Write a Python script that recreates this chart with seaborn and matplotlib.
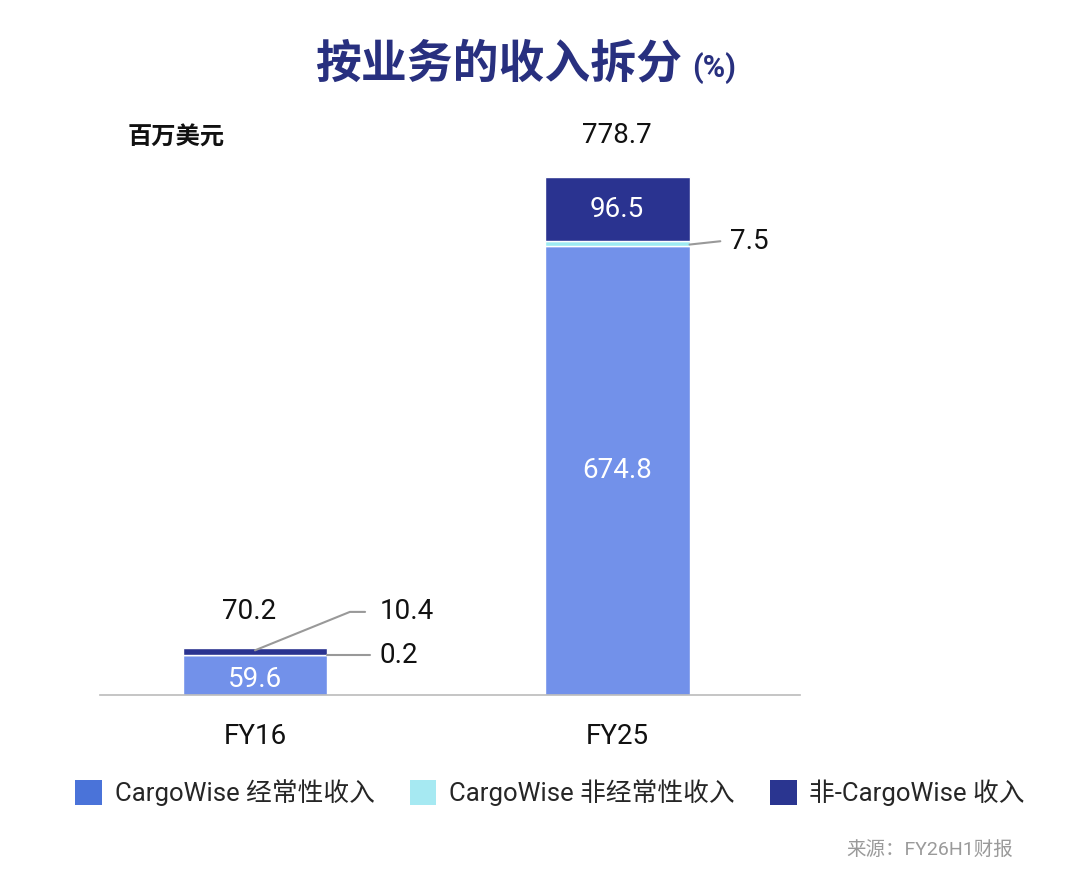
import numpy as np
import pandas as pd
import matplotlib
matplotlib.use("Agg")
import matplotlib.pyplot as plt
from matplotlib.patches import Patch
import seaborn as sns

# data (US$ million)
years = ["FY16", "FY25"]
recurring = [59.6, 674.8]
non_recurring = [0.2, 7.5]
non_cargowise = [10.4, 96.5]
totals = [70.2, 778.7]
series_names = ["CargoWise 经常性收入", "CargoWise 非经常性收入", "非-CargoWise 收入"]

bar_colors = ["#7291EA", "#9DEBF2", "#2A3390"]
legend_colors = ["#4A73D9", "#A6E9F2", "#2A3590"]

sns.set_theme(style="white")
plt.rcParams["font.family"] = ["Roboto", "Noto Sans CJK SC", "DejaVu Sans"]

df = pd.DataFrame({"year": years, "rec": recurring, "nonrec": non_recurring, "other": non_cargowise})
df["b2"] = df["rec"]
df["b3"] = df["rec"] + df["nonrec"]

fig = plt.figure(figsize=(10.8, 8.76), dpi=100)
ax = fig.add_axes([100 / 1080, 181 / 876, 700 / 1080, 595 / 876])

sns.barplot(data=df, x="year", y="rec", color=bar_colors[0], width=0.4, saturation=1, ax=ax)
sns.barplot(data=df, x="year", y="nonrec", bottom=df["b2"].to_numpy(), color=bar_colors[1],
            width=0.4, saturation=1, ax=ax)
sns.barplot(data=df, x="year", y="other", bottom=df["b3"].to_numpy(), color=bar_colors[2],
            width=0.4, saturation=1, ax=ax)

ax.set_xlim(-0.428, 1.505)
ax.set_ylim(0, 895)
ax.set_xlabel("")
ax.set_ylabel("")
ax.set_yticks([])
ax.tick_params(axis="x", length=0, pad=20, labelsize=20, labelcolor="#111111")
for s in ["top", "right", "left"]:
    ax.spines[s].set_visible(False)
ax.spines["bottom"].set_color("#BBBBBB")
ax.spines["bottom"].set_linewidth(1.2)

num_kw = dict(fontsize=20, color="#111111")
line_kw = dict(color="#999999", lw=1.5)

# inner labels (white)
ax.text(0, recurring[0] * 0.4, f"{recurring[0]}", ha="center", va="center", fontsize=20, color="white")
ax.text(1, recurring[1] / 2, f"{recurring[1]}", ha="center", va="center", fontsize=20, color="white")
ax.text(1, df["b3"][1] + non_cargowise[1] / 2, f"{non_cargowise[1]}",
        ha="center", va="center", fontsize=20, color="white")

# totals
ax.text(0 - 0.015, 126, f"{totals[0]}", ha="center", va="center", **num_kw)
ax.text(1, 842, f"{totals[1]}", ha="center", va="center", **num_kw)

# FY16 leader labels
top16 = totals[0]
ax.plot([0, 0.262, 0.304], [top16 - 3, 125, 125], **line_kw)
ax.text(0.345, 126, f"{non_cargowise[0]}", ha="left", va="center", **num_kw)
y02 = recurring[0] + non_recurring[0] / 2
ax.plot([0.2, 0.318], [y02, y02], **line_kw)
ax.text(0.345, y02, f"{non_recurring[0]}", ha="left", va="center", **num_kw)

# FY25 leader label
y75 = recurring[1] + non_recurring[1] / 2
ax.plot([1.2, 1.285], [y75 - 1, y75 + 4], **line_kw)
ax.text(1.312, y75 + 4, f"{non_recurring[1]}", ha="left", va="center", **num_kw)

# title
fig.text(682 / 1080, 1 - 64 / 876, "按业务的收入拆分", ha="right", va="center",
         fontsize=33, fontweight="bold", color="#28307F")
fig.text(692 / 1080, 1 - 68 / 876, "(%)", ha="left", va="center",
         fontsize=22, fontweight="bold", color="#28307F")

fig.text(128 / 1080, 1 - 138 / 876, "百万美元", ha="left", va="center",
         fontsize=17.5, fontweight="bold", color="#111111")

handles = [Patch(facecolor=c, edgecolor="none") for c in legend_colors]
fig.legend(handles, series_names, loc="center left", bbox_to_anchor=(52 / 1080, 1 - 793 / 876),
           ncol=3, frameon=False, fontsize=18.5, handlelength=1.05, handleheight=1.1,
           handletextpad=0.5, columnspacing=1.35)

fig.text(1013 / 1080, 1 - 850 / 876, "来源：FY26H1财报", ha="right", va="center",
         fontsize=14, color="#9A9A9A")

fig.savefig("out.png", dpi=100, facecolor="white")
